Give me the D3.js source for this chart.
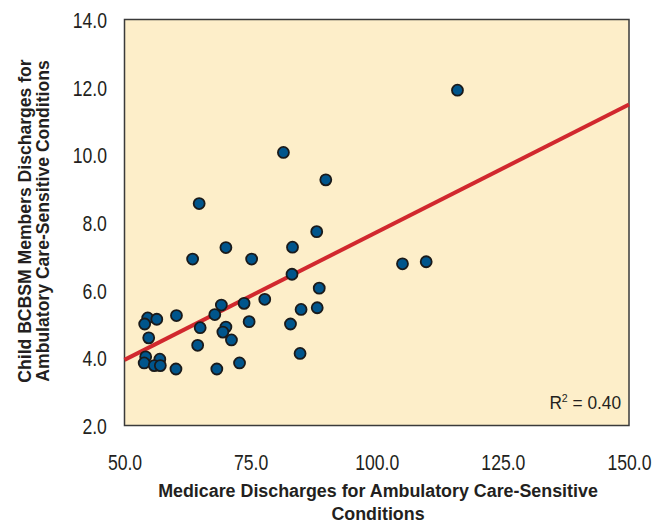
<!DOCTYPE html>
<html>
<head>
<meta charset="utf-8">
<script src="https://cdn.jsdelivr.net/npm/d3@7"></script>
<style>
  body { margin: 0; background: #fff; }
  text { font-family: "Liberation Sans", Arial, sans-serif; fill: #231f20; }
</style>
</head>
<body>
<div id="chart"></div>
<script>
// Medicare discharges (x) vs child BCBSM member discharges (y), ACS conditions
var medicare = [64.8, 63.5, 70.1, 75.2, 83.3, 88.1, 83.2, 88.6, 77.8, 73.7,
                69.2, 67.9, 85.0, 88.2, 60.3, 54.6, 56.4, 54.0, 65.0, 70.1,
                69.5, 74.7, 82.9, 54.8, 71.2, 64.5, 84.8, 54.2, 57.0, 53.9,
                55.9, 57.1, 60.2, 68.3, 72.8, 81.5, 89.9, 116.0, 105.1, 109.8];
var child = [8.56, 6.92, 7.26, 6.92, 7.27, 7.73, 6.47, 6.06, 5.73, 5.61,
             5.56, 5.28, 5.43, 5.48, 5.25, 5.18, 5.14, 5.00, 4.89, 4.91,
             4.76, 5.07, 5.00, 4.59, 4.53, 4.37, 4.13, 4.03, 3.96, 3.85,
             3.77, 3.77, 3.67, 3.67, 3.85, 10.07, 9.26, 11.91, 6.78, 6.84];
var xTicks = [50, 75, 100, 125, 150];
var yTicks = [2, 4, 6, 8, 10, 12, 14];
// fitted trend line end points
var trendX = [50, 150];
var trendY = [3.94, 11.49];
var rSquared = "0.40";

var w = 652, h = 525;
var plotLeft = 124.5, plotRight = 629, plotTop = 19.5, plotBottom = 425.5;

var svg = d3.select("#chart").append("svg")
  .attr("width", w)
  .attr("height", h);

var xScale = d3.scaleLinear().domain([50, 150]).range([plotLeft, plotRight]);
var yScale = d3.scaleLinear().domain([2, 14]).range([plotBottom, plotTop]);

svg.append("rect")
  .attr("x", plotLeft).attr("y", plotTop)
  .attr("width", plotRight - plotLeft).attr("height", plotBottom - plotTop)
  .attr("fill", "#fdeec9")
  .attr("stroke", "#3a3a3a")
  .attr("stroke-width", 1.5);

var xAxis = d3.axisBottom(xScale).tickValues(xTicks).tickSize(0).tickPadding(0).tickFormat(d3.format(".1f"));
var yAxis = d3.axisLeft(yScale).tickValues(yTicks).tickSize(0).tickPadding(0).tickFormat(d3.format(".1f"));

// narrow-looking labels: wide font squeezed horizontally
var gx = svg.append("g").attr("transform", "translate(0," + plotBottom + ")").call(xAxis);
gx.select(".domain").remove();
gx.selectAll("text")
  .attr("y", 44.5).attr("dy", null)
  .attr("transform", "scale(0.8,1)")
  .style("font-size", "22px").attr("fill", "#231f20");

var gy = svg.append("g").attr("transform", "translate(" + plotLeft + ",0)").call(yAxis);
gy.select(".domain").remove();
gy.selectAll("text")
  .attr("x", -22).attr("dy", "0.36em")
  .attr("transform", "scale(0.8,1)")
  .style("font-size", "22px").attr("fill", "#231f20");

var line = d3.line()
  .x(function(d, i) { return xScale(trendX[i]); })
  .y(function(d, i) { return yScale(trendY[i]); });

svg.append("path")
  .datum(trendX)
  .attr("fill", "none")
  .attr("stroke", "#d1282e")
  .attr("stroke-width", 4)
  .attr("d", line);

svg.selectAll("circle")
  .data(medicare)
  .enter()
  .append("circle")
  .attr("cx", function(d) { return xScale(d); })
  .attr("cy", function(d, i) { return yScale(child[i]); })
  .attr("r", 5.5)
  .attr("fill", "#00558c")
  .attr("stroke", "#1a1a1a")
  .attr("stroke-width", 1.8);

var r2 = svg.append("text")
  .attr("transform", "translate(621,409) scale(0.96,1)")
  .attr("text-anchor", "end")
  .style("font-size", "18px");
r2.append("tspan").text("R");
r2.append("tspan").attr("dy", -7).style("font-size", "11px").text("2");
r2.append("tspan").attr("dy", 7).text(" = " + rSquared);

svg.append("text")
  .attr("transform", "translate(378,497) scale(0.94,1)")
  .attr("text-anchor", "middle")
  .style("font-size", "19px").style("font-weight", "bold")
  .text("Medicare Discharges for Ambulatory Care-Sensitive");
svg.append("text")
  .attr("transform", "translate(378,520) scale(0.94,1)")
  .attr("text-anchor", "middle")
  .style("font-size", "19px").style("font-weight", "bold")
  .text("Conditions");

svg.append("text")
  .attr("transform", "translate(31,221) rotate(-90) scale(0.926,1)")
  .attr("text-anchor", "middle")
  .style("font-size", "19px").style("font-weight", "bold")
  .text("Child BCBSM Members Discharges for");
svg.append("text")
  .attr("transform", "translate(49,221) rotate(-90) scale(0.926,1)")
  .attr("text-anchor", "middle")
  .style("font-size", "19px").style("font-weight", "bold")
  .text("Ambulatory Care-Sensitive Conditions");
</script>
</body>
</html>
